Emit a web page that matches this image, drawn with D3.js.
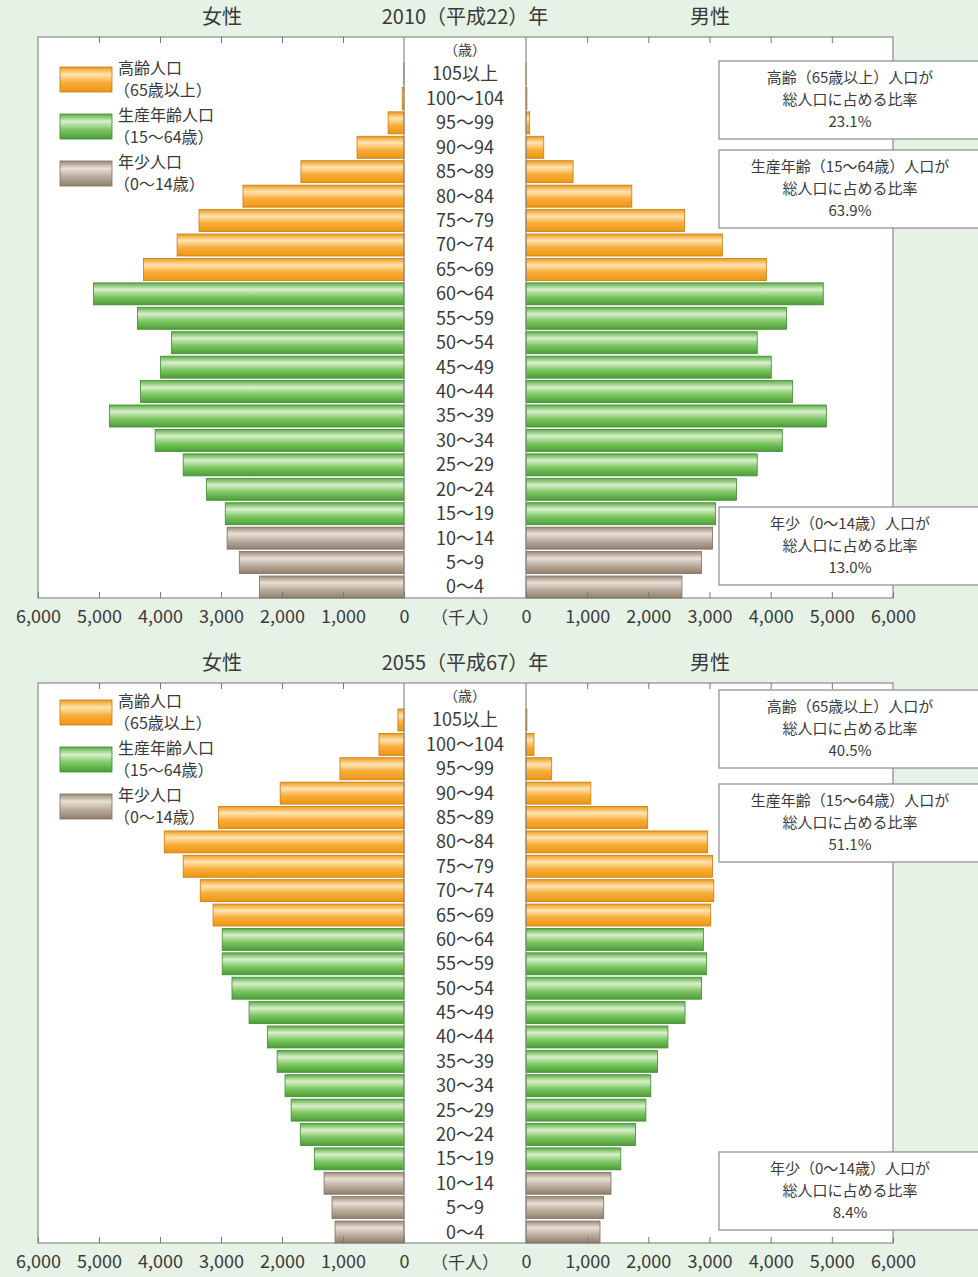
<!DOCTYPE html>
<html>
<head>
<meta charset="utf-8">
<script src="https://cdnjs.cloudflare.com/ajax/libs/d3/7.8.5/d3.min.js"></script>
<style>
  body { margin: 0; background: #e5f2e5; }
  text { font-family: "Noto Sans CJK JP", "Noto Sans", sans-serif; fill: #3a3a3a; }
</style>
</head>
<body>
<script>
  // age groups, bottom to top
  var ageGroups = ["0～4", "5～9", "10～14", "15～19", "20～24", "25～29", "30～34",
    "35～39", "40～44", "45～49", "50～54", "55～59", "60～64", "65～69", "70～74",
    "75～79", "80～84", "85～89", "90～94", "95～99", "100～104", "105以上"];
  // 0 = young, 1 = working age, 2 = elderly
  var ageClass = [0, 0, 0, 1, 1, 1, 1, 1, 1, 1, 1, 1, 1, 2, 2, 2, 2, 2, 2, 2, 2, 2];

  // thousands of people
  var female2010 = [2370, 2700, 2900, 2930, 3240, 3620, 4080, 4830, 4320, 3990, 3810,
    4370, 5090, 4270, 3720, 3360, 2640, 1690, 770, 260, 30, 5];
  var male2010 = [2550, 2870, 3050, 3100, 3440, 3780, 4190, 4910, 4360, 4010, 3780,
    4260, 4860, 3930, 3210, 2590, 1730, 770, 290, 60, 15, 2];
  var female2055 = [1130, 1180, 1310, 1470, 1700, 1850, 1950, 2080, 2240, 2540, 2820,
    2980, 2980, 3130, 3340, 3620, 3930, 3040, 2030, 1050, 410, 100];
  var male2055 = [1210, 1270, 1390, 1550, 1790, 1960, 2040, 2150, 2320, 2600, 2870,
    2950, 2900, 3020, 3070, 3050, 2970, 1990, 1060, 420, 130, 15];

  var tickValues = [0, 1000, 2000, 3000, 4000, 5000, 6000];
  var legendLabels = [["高齢人口", "（65歳以上）"], ["生産年齢人口", "（15～64歳）"], ["年少人口", "（0～14歳）"]];
  var shareLabels = [["高齢（65歳以上）人口が", "総人口に占める比率"],
    ["生産年齢（15～64歳）人口が", "総人口に占める比率"],
    ["年少（0～14歳）人口が", "総人口に占める比率"]];
  var shares2010 = ["23.1%", "63.9%", "13.0%"];
  var shares2055 = ["40.5%", "51.1%", "8.4%"];

  var colors = [
    {id: "gYoung", stops: ["#9a8a78", "#e8dfd6", "#bcae9f", "#8f7f6d"], edge: "#7d6e5e"},
    {id: "gWork", stops: ["#5aae44", "#d9f0cb", "#7fc865", "#4b9e36"], edge: "#3f8a2e"},
    {id: "gOld", stops: ["#ee9a1c", "#ffe4b2", "#f8ad3a", "#ec9612"], edge: "#c87a10"}
  ];

  var svg = d3.select("body").append("svg")
    .attr("width", 978)
    .attr("height", 1277);

  svg.append("rect")
    .attr("width", 978).attr("height", 1277)
    .attr("fill", "#e5f2e5");

  var defs = svg.append("defs");
  colors.forEach(function(c) {
    var grad = defs.append("linearGradient")
      .attr("id", c.id)
      .attr("x1", 0).attr("y1", 0).attr("x2", 0).attr("y2", 1);
    [0, 0.3, 0.62, 1].forEach(function(o, i) {
      grad.append("stop").attr("offset", o).attr("stop-color", c.stops[i]);
    });
  });

  var frameLeft = 38, frameRight = 893, axisL = 404, axisR = 526, midX = 465;

  var xLeft = d3.scaleLinear().domain([0, 6000]).range([axisL, frameLeft]);
  var xRight = d3.scaleLinear().domain([0, 6000]).range([axisR, frameRight]);

  function drawPanel(p) {
    var g = svg.append("g");
    var top = p.top, bottom = p.bottom;

    // header
    g.append("text").attr("x", 222).attr("y", top - 20).attr("text-anchor", "middle")
      .attr("dy", "0.35em").style("font-size", "20px").text("女性");
    g.append("text").attr("x", midX).attr("y", top - 20).attr("text-anchor", "middle")
      .attr("dy", "0.35em").style("font-size", "20px").text(p.title);
    g.append("text").attr("x", 710).attr("y", top - 20).attr("text-anchor", "middle")
      .attr("dy", "0.35em").style("font-size", "20px").text("男性");

    // frame
    g.append("rect")
      .attr("x", frameLeft).attr("y", top)
      .attr("width", frameRight - frameLeft).attr("height", bottom - top)
      .attr("fill", "#fff").attr("stroke", "#8a8a8a").attr("stroke-width", 1.2);

    var y = d3.scaleBand()
      .domain(ageGroups.slice().reverse())
      .range([top + 26, bottom])
      .paddingInner(0.1)
      .paddingOuter(0);

    // bars
    g.selectAll(".bf").data(p.female).enter().append("rect")
      .attr("x", function(d) { return xLeft(d); })
      .attr("y", function(d, i) { return y(ageGroups[i]); })
      .attr("width", function(d) { return axisL - xLeft(d); })
      .attr("height", y.bandwidth())
      .attr("fill", function(d, i) { return "url(#" + colors[ageClass[i]].id + ")"; })
      .attr("stroke", function(d, i) { return colors[ageClass[i]].edge; })
      .attr("stroke-width", 0.8);

    g.selectAll(".bm").data(p.male).enter().append("rect")
      .attr("x", axisR)
      .attr("y", function(d, i) { return y(ageGroups[i]); })
      .attr("width", function(d) { return xRight(d) - axisR; })
      .attr("height", y.bandwidth())
      .attr("fill", function(d, i) { return "url(#" + colors[ageClass[i]].id + ")"; })
      .attr("stroke", function(d, i) { return colors[ageClass[i]].edge; })
      .attr("stroke-width", 0.8);

    // center axis lines
    [axisL, axisR].forEach(function(x) {
      g.append("line").attr("x1", x).attr("x2", x).attr("y1", top).attr("y2", bottom)
        .attr("stroke", "#8a8a8a").attr("stroke-width", 1.2);
    });

    // age labels
    g.append("text").attr("x", midX).attr("y", top + 13).attr("text-anchor", "middle")
      .attr("dy", "0.35em").style("font-size", "14px").text("（歳）");
    g.selectAll(".age").data(ageGroups).enter().append("text")
      .attr("x", midX)
      .attr("y", function(d) { return y(d) + y.bandwidth() / 2; })
      .attr("dy", "0.36em")
      .attr("text-anchor", "middle")
      .style("font-size", "18px")
      .text(function(d) { return d; });

    // ticks: top (pointing down) and bottom (pointing up)
    [xLeft, xRight].forEach(function(sc) {
      var topAxis = g.append("g").attr("transform", "translate(0," + top + ")")
        .call(d3.axisBottom(sc).tickValues(tickValues.slice(1, 6)).tickSize(6).tickFormat(""));
      topAxis.select(".domain").remove();
      topAxis.selectAll("line").attr("stroke", "#777");

      var botAxis = g.append("g").attr("transform", "translate(0," + bottom + ")")
        .call(d3.axisBottom(sc).tickValues(tickValues).tickSizeInner(-6).tickSizeOuter(0)
          .tickPadding(12).tickFormat(d3.format(",")));
      botAxis.select(".domain").remove();
      botAxis.selectAll("line").attr("stroke", "#777");
      botAxis.selectAll("text")
        .attr("fill", "#3a3a3a")
        .style("font-size", "18px")
        .style("font-family", "'Noto Sans CJK JP', sans-serif");
    });
    g.append("text").attr("x", midX).attr("y", bottom + 20).attr("text-anchor", "middle")
      .attr("dy", "0.35em").style("font-size", "17px").text("（千人）");

    // legend
    legendLabels.forEach(function(lab, i) {
      var ly = p.legendTop + i * 47;
      var cls = colors[2 - i];
      g.append("rect").attr("x", 60).attr("y", ly).attr("width", 52).attr("height", 25)
        .attr("fill", "url(#" + cls.id + ")").attr("stroke", cls.edge).attr("stroke-width", 0.8);
      g.append("text").attr("x", 118).attr("y", ly + 1).attr("dy", "0.35em")
        .style("font-size", "16px").text(lab[0]);
      g.append("text").attr("x", 114).attr("y", ly + 23).attr("dy", "0.35em")
        .style("font-size", "16px").text(lab[1]);
    });

    // share boxes
    p.boxTops.forEach(function(by, i) {
      g.append("rect").attr("x", 719).attr("y", by).attr("width", 290).attr("height", 78)
        .attr("fill", "#fff").attr("stroke", "#8a8a8a").attr("stroke-width", 1.2);
      var lines = [shareLabels[i][0], shareLabels[i][1], p.shares[i]];
      lines.forEach(function(t, j) {
        g.append("text").attr("x", 850).attr("y", by + 17 + j * 22)
          .attr("dy", "0.35em").attr("text-anchor", "middle")
          .style("font-size", "15px").text(t);
      });
    });
  }

  drawPanel({
    title: "2010（平成22）年", top: 37, bottom: 598,
    female: female2010, male: male2010, shares: shares2010,
    legendTop: 67, boxTops: [61, 150, 507]
  });
  drawPanel({
    title: "2055（平成67）年", top: 683, bottom: 1243,
    female: female2055, male: male2055, shares: shares2055,
    legendTop: 700, boxTops: [690, 784, 1152]
  });
</script>
</body>
</html>
